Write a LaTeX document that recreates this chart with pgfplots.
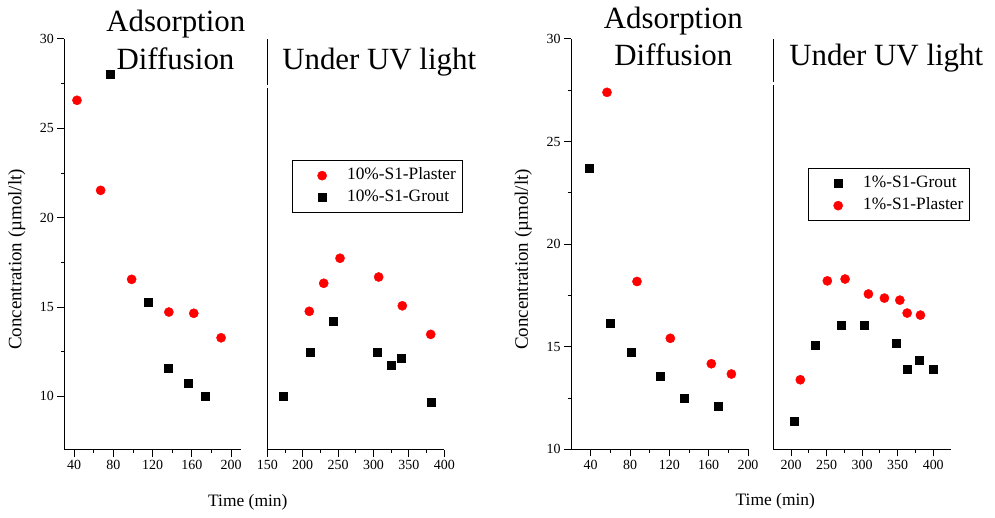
\documentclass[border=0pt]{standalone}
\usepackage{fontspec}
\setmainfont{Liberation Serif}
\usepackage{pgfplots}
\pgfplotsset{compat=1.18}
\begin{document}
\begin{tikzpicture}
\useasboundingbox (0bp,0bp) rectangle (995bp,518bp);
\pgfplotsset{
  base/.style={scale only axis, anchor=south west,
    axis x line*=bottom, axis y line*=left, tick align=outside,
    major tick length=7bp, minor tick length=3.5bp,
    axis line style={line width=1bp, black},
    tick style={black, line width=1bp},
    clip=false,
    /pgf/number format/assume math mode=true,
    tick label style={font=\fontsize{14}{16}\selectfont},
    minor x tick num=1, minor y tick num=1,
    legend style={draw=black, line width=0.8bp, font=\fontsize{17.4}{20}\selectfont,
      anchor=north west, inner xsep=4.5bp, inner ysep=5bp, row sep=2bp,
      nodes={inner ysep=2bp, text height=12bp, text depth=4bp}},
    legend cell align=left,
    every axis y label/.style={at={(axis description cs:-0.268,0.4635)}, rotate=90, anchor=center, font=\fontsize{19}{21}\selectfont},
  },
  limg/.style={legend image code/.code={\path[draw=none,fill=none] (0bp,-1bp) rectangle (48.5bp,1bp); \draw[##1] plot coordinates {(25.5bp,0bp)};}},
  pl/.style={only marks, mark=*, mark size=4.6bp, color=red, mark options={draw=red, fill=red, line width=0.4bp}, limg},
  gr/.style={only marks, mark=square*, mark size=4bp, color=black, mark options={draw=black, fill=black, line width=0.4bp}, limg},
}
% ---------- Left panel (10%) ----------
\begin{axis}[base, at={(64.3bp,68bp)}, width=176.7bp, height=411bp,
  xmin=30, xmax=210, ymin=7, ymax=30,
  xtick={40,80,...,200}, ytick={10,15,...,30},
  ylabel={Concentration (µmol/lt)}]
\addplot[pl] coordinates {(42.9,26.57) (67.0,21.53) (98.6,16.55) (136.5,14.72) (161.9,14.65) (189.7,13.28)};
\addplot[gr] coordinates {(76.5,28.03) (115.9,15.28) (135.8,11.57) (156.5,10.74) (173.1,10.0)};
\end{axis}
\begin{axis}[base, at={(267.3bp,68bp)}, width=177bp, height=411bp,
  xmin=150, xmax=400, ymin=7, ymax=30,
  xtick={150,200,...,400}, ytick=\empty,
  legend style={at={(axis description cs:0.138,0.705)}}]
\addplot[pl] coordinates {(209.3,14.76) (229.7,16.33) (252.7,17.73) (307.3,16.68) (340.7,15.07) (380.8,13.47)};
\addlegendentry{10\%-S1-Plaster}
\addplot[gr] coordinates {(172.6,10.0) (210.3,12.46) (242.4,14.22) (305.4,12.5) (325.7,11.75) (339.3,12.13) (380.8,9.68)};
\addlegendentry{10\%-S1-Grout}
\fill[white] (axis description cs:-0.02,0.881) rectangle (axis description cs:0.02,0.889);
\end{axis}
% ---------- Right panel (1%) ----------
\begin{axis}[base, at={(571bp,68.7bp)}, width=177bp, height=410.3bp,
  xmin=20, xmax=200, ymin=10, ymax=30,
  xtick={40,80,...,200}, ytick={10,15,...,30},
  every axis y label/.append style={at={(axis description cs:-0.27,0.4626)}},
  ylabel={Concentration (µmol/lt)}]
\addplot[gr] coordinates {(38.6,23.72) (59.7,16.17) (81.4,14.72) (111.2,13.54) (135,12.51) (169.2,12.12)};
\addplot[pl] coordinates {(56.6,27.40) (87.1,18.18) (121,15.41) (162.7,14.17) (183.1,13.67)};
\end{axis}
\begin{axis}[base, at={(773.3bp,68.7bp)}, width=177.7bp, height=410.3bp,
  xmin=175, xmax=425, ymin=10, ymax=30,
  xtick={200,250,...,400}, ytick=\empty,
  legend style={at={(axis description cs:0.194,0.685)}}]
\addplot[gr] coordinates {(204.6,11.38) (234.2,15.08) (269.9,16.05) (302.3,16.04) (347.4,15.16) (363.3,13.91) (379.8,14.35) (400.3,13.9)};
\addlegendentry{1\%-S1-Grout}
\addplot[pl] coordinates {(213,13.39) (251,18.21) (276,18.30) (308.8,17.57) (331.3,17.37) (353,17.27) (363.3,16.64) (382,16.54)};
\addlegendentry{1\%-S1-Plaster}
\fill[white] (axis description cs:-0.02,0.888) rectangle (axis description cs:0.02,0.896);
\end{axis}
% ---------- Titles and x labels ----------
\begin{scope}[every node/.style={font=\fontsize{31}{36}\selectfont, anchor=base, inner sep=0pt}]
\node at (175.8bp,486.3bp) {Adsorption};
\node at (175.5bp,448bp) {Diffusion};
\node at (379.2bp,448bp) {Under UV light};
\node at (673.3bp,489.7bp) {Adsorption};
\node at (673.3bp,452.3bp) {Diffusion};
\node at (886.2bp,452.3bp) {Under UV light};
\end{scope}
\node[font=\fontsize{17.5}{20}\selectfont] at (247.8bp,15.5bp) {Time (min)};
\node[font=\fontsize{17.5}{20}\selectfont] at (775.3bp,17bp) {Time (min)};
\end{tikzpicture}
\end{document}
